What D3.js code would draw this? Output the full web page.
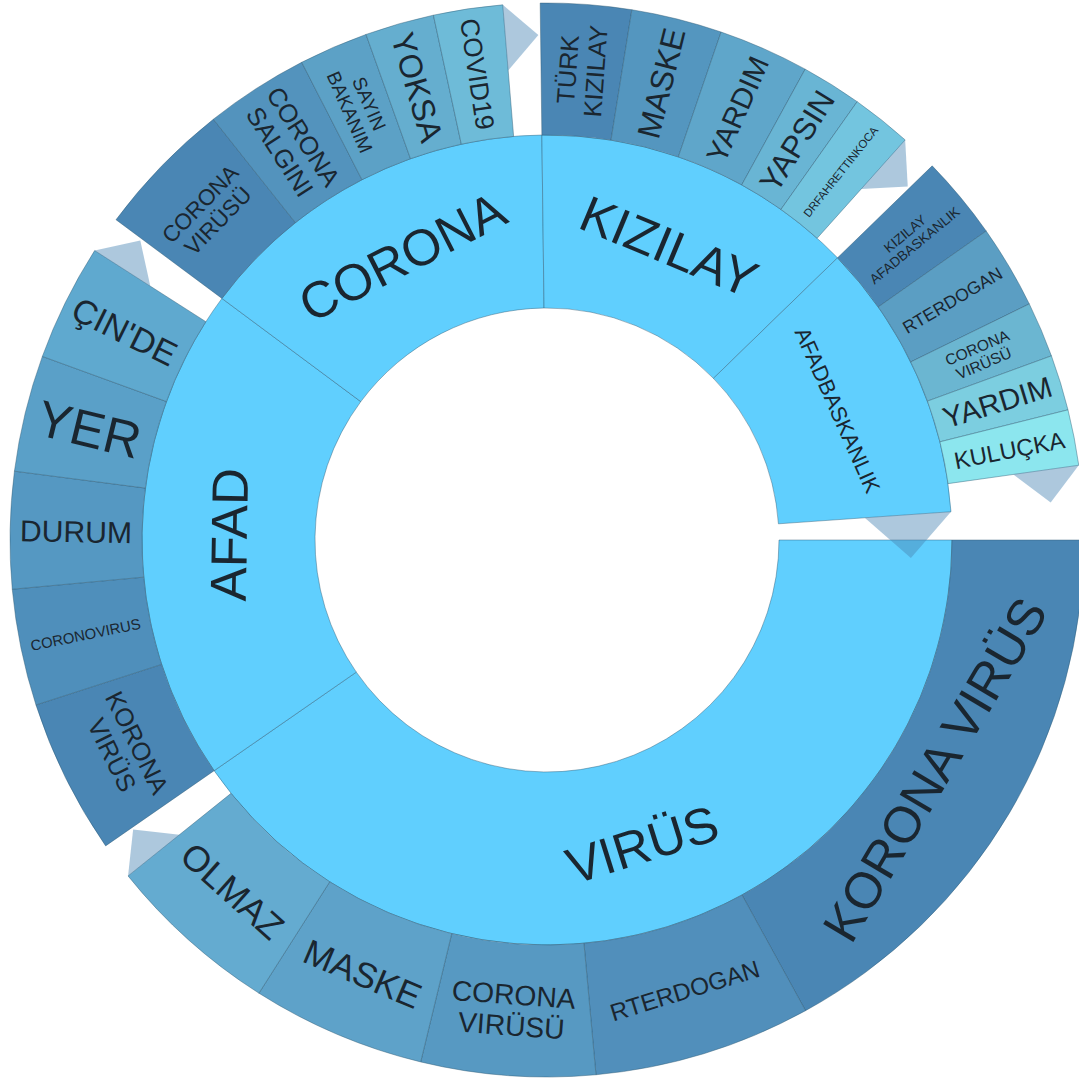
<!DOCTYPE html>
<html>
<head>
<meta charset="utf-8">
<script src="https://cdn.jsdelivr.net/npm/d3@7"></script>
<style>
html, body { margin: 0; padding: 0; background: #fff; }
svg { display: block; }
text { font-family: "Liberation Sans", Arial, sans-serif; fill: #1a2630; }
</style>
</head>
<body>
<script>
// inner ring: topics, clockwise from 3 o'clock
const topics = ["VIRÜS", "AFAD", "CORONA", "KIZILAY", "AFADBASKANLIK"];
const topicValues = [1454, 714, 527, 466, 402];

// outer ring: words that come with each topic
const virusWords = ["KORONA VIRÜS", "RTERDOGAN", "CORONA VIRÜSÜ", "MASKE", "OLMAZ"];
const virusCounts = [13, 5, 4, 4, 4];
const afadWords = ["KORONA VIRÜS", "CORONOVIRUS", "DURUM", "YER", "ÇIN'DE"];
const afadCounts = [4, 3, 3, 3, 3];
const coronaWords = ["CORONA VIRÜSÜ", "CORONA SALGINI", "SAYIN BAKANIM", "YOKSA", "COVID19"];
const coronaCounts = [4, 3, 2, 2, 2];
const kizilayWords = ["TÜRK KIZILAY", "MASKE", "YARDIM", "YAPSIN", "DRFAHRETTINKOCA"];
const kizilayCounts = [3, 3, 3, 2, 2];
const afadbWords = ["KIZILAY AFADBASKANLIK", "RTERDOGAN", "CORONA VIRÜSÜ", "YARDIM", "KULUÇKA"];
const afadbCounts = [3, 3, 2, 2, 2];

const groups = [
    [virusWords, virusCounts],
    [afadWords, afadCounts],
    [coronaWords, coronaCounts],
    [kizilayWords, kizilayCounts],
    [afadbWords, afadbCounts]
];

// colours
const innerColor = "#60cffe";
const darkColor = "#4a86b4";
const groupEndColors = ["#64abd0", "#5fa9cf", "#6ebbd8", "#73c5df", "#8ce6ee"];

const width = 1079, height = 1079;
const cx = 547, cy = 540;
const r0 = 232, r1 = 405, r2 = 537;
const gap = 4 * Math.PI / 180; // room left for the arrow tip at the end of each group
const maxFont = 51;

const svg = d3.select("body").append("svg")
    .attr("width", width)
    .attr("height", height);
const g = svg.append("g").attr("transform", `translate(${cx},${cy})`);

// inner ring layout
const innerData = topics.map((t, i) => ({ label: t, value: topicValues[i] }));
const innerArcs = d3.pie().sort(null).value(d => d.value)
    .startAngle(Math.PI / 2)
    .endAngle(Math.PI / 2 + 2 * Math.PI - gap)(innerData);

// outer ring layout, inside each parent
const outerArcs = [];
const lastOuter = [];
innerArcs.forEach((p, i) => {
    const [words, counts] = groups[i];
    const data = words.map((w, j) => ({ label: w, value: counts[j] }));
    const arcs = d3.pie().sort(null).value(d => d.value)
        .startAngle(p.startAngle)
        .endAngle(p.endAngle - gap)(data);
    const color = d3.scaleLinear().domain([0, arcs.length - 1]).range([darkColor, groupEndColors[i]]);
    arcs.forEach((a, j) => { a.fill = color(j); });
    outerArcs.push(...arcs);
    lastOuter.push(arcs[arcs.length - 1]);
});

const innerArc = d3.arc().innerRadius(r0).outerRadius(r1);
const outerArc = d3.arc().innerRadius(r1).outerRadius(r2);

g.selectAll(".inner")
    .data(innerArcs)
    .enter()
    .append("path")
    .attr("class", "inner")
    .attr("d", innerArc)
    .attr("fill", innerColor)
    .attr("stroke", "#2f5a74")
    .attr("stroke-opacity", 0.55)
    .attr("stroke-width", 0.8);

g.selectAll(".outer")
    .data(outerArcs)
    .enter()
    .append("path")
    .attr("class", "outer")
    .attr("d", outerArc)
    .attr("fill", d => d.fill)
    .attr("stroke", "#2f5a74")
    .attr("stroke-opacity", 0.55)
    .attr("stroke-width", 0.8);

// arrow tips after the last slice of each group
function arrowPath(endAngle, ra, rb) {
    const rm = (ra + rb) / 2, b = rb - rm, rt = (rm + rb) / 2;
    const pt = (r, a) => [r * Math.sin(a), -r * Math.cos(a)];
    const p1 = pt(rm, endAngle), p2 = pt(rb, endAngle), m = pt(rt, endAngle);
    const tip = [m[0] + Math.cos(endAngle) * b / 2, m[1] + Math.sin(endAngle) * b / 2];
    return d3.line()([p1, p2, tip]) + "Z";
}

const arrows = [{ a: innerArcs[innerArcs.length - 1].endAngle, ra: r0, rb: r1 }]
    .concat(lastOuter.map(d => ({ a: d.endAngle, ra: r1, rb: r2 })));

g.selectAll(".arrow")
    .data(arrows)
    .enter()
    .append("path")
    .attr("class", "arrow")
    .attr("d", d => arrowPath(d.a, d.ra, d.rb))
    .attr("fill", darkColor)
    .attr("fill-opacity", 0.45);

// labels, sized to fit their slice
const measurer = svg.append("text").attr("font-size", 100).attr("visibility", "hidden");
function em(s) {
    measurer.text(s);
    return measurer.node().getComputedTextLength() / 100;
}

function drawLabel(d, ra, rb) {
    const span = d.endAngle - d.startAngle, thick = rb - ra;
    let rm = (ra + rb) / 2;
    const tangential = span * rb > thick;
    const along = tangential ? span * rm * 0.8 : thick * 0.85;
    const across = tangential ? thick * 0.8 : span * ra * 0.8;

    const options = [[d.data.label]];
    const words = d.data.label.split(" ");
    if (words.length > 1) options.push([words[0], words.slice(1).join(" ")]);
    let best = null;
    options.forEach(lines => {
        const w = d3.max(lines, em);
        const f = Math.min(maxFont, along / w, across / (lines.length * 1.1));
        if (!best || f > best.f) best = { lines, f, w };
    });

    // a long straight label pulls inward so its ends stay clear of the rim
    if (tangential) {
        const half = best.w * best.f / 2, h = 0.36 * best.f * best.lines.length;
        const lim = rb - 30;
        if (lim * lim - half * half > 0) rm = Math.min(rm, Math.sqrt(lim * lim - half * half) - h);
    }

    const mid = (d.startAngle + d.endAngle) / 2;
    const deg = (mid * 180 / Math.PI) % 360;
    let rot;
    if (tangential) rot = (deg > 90 && deg < 270) ? deg - 180 : (deg >= 270 ? deg - 360 : deg);
    else rot = deg < 180 ? deg - 90 : deg - 270;

    const x = rm * Math.sin(mid), y = -rm * Math.cos(mid);
    const t = g.append("text")
        .attr("transform", `translate(${x},${y}) rotate(${rot})`)
        .attr("text-anchor", "middle")
        .attr("font-size", best.f);
    const n = best.lines.length;
    best.lines.forEach((line, k) => {
        t.append("tspan")
            .attr("x", 0)
            .attr("y", (k - (n - 1) / 2) * 1.1 * best.f + 0.36 * best.f)
            .text(line);
    });
}

innerArcs.forEach(d => drawLabel(d, r0, r1));
outerArcs.forEach(d => drawLabel(d, r1, r2));
measurer.remove();
</script>
</body>
</html>
